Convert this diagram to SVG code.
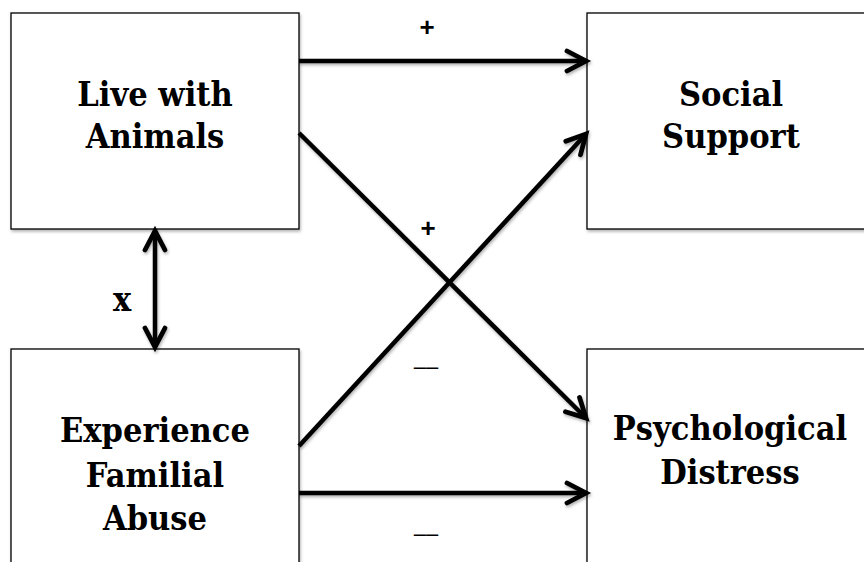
<svg xmlns="http://www.w3.org/2000/svg" width="864" height="562" viewBox="0 0 864 562">
  <defs>
    <filter id="sh" x="-10%" y="-10%" width="130%" height="130%">
      <feDropShadow dx="1" dy="2" stdDeviation="1.5" flood-color="#000" flood-opacity="0.3"/>
    </filter>
    <marker id="ah" viewBox="-24 -14 28 28" refX="0" refY="0" markerWidth="28" markerHeight="28" markerUnits="userSpaceOnUse" orient="auto-start-reverse" overflow="visible">
      <path d="M-19,-10 L0,0 L-19,10" fill="none" stroke="#000" stroke-width="4.8" stroke-linecap="round" stroke-linejoin="miter"/>
    </marker>
  </defs>
  <style>
    .box { fill: #fff; stroke: #000; stroke-width: 1.3; }
    .lbl { font-family: "DejaVu Serif", "Liberation Serif", serif; font-weight: bold; font-size: 34px; font-stretch: condensed; text-anchor: middle; fill: #000; }
    .plus { font-family: "Liberation Sans", Arial, sans-serif; font-weight: bold; font-size: 26px; text-anchor: middle; fill: #000; }
    .minus { font-family: "Liberation Sans", Arial, sans-serif; font-size: 22px; text-anchor: middle; fill: #000; }
    .conn { fill: none; stroke: #000; stroke-width: 4.5; }
  </style>
  <rect width="864" height="562" fill="#fff"/>

  <g id="live-with-animals">
    <rect class="box" x="11" y="13" width="288" height="216" filter="url(#sh)"/>
    <text class="lbl" x="155" y="106">Live with</text>
    <text class="lbl" x="155" y="148">Animals</text>
  </g>
  <g id="social-support">
    <rect class="box" x="587" y="13" width="290" height="216" filter="url(#sh)"/>
    <text class="lbl" x="731" y="106">Social</text>
    <text class="lbl" x="731" y="148">Support</text>
  </g>
  <g id="experience-familial-abuse">
    <rect class="box" x="11" y="349" width="288" height="230" filter="url(#sh)"/>
    <text class="lbl" x="155" y="442">Experience</text>
    <text class="lbl" x="155" y="487">Familial</text>
    <text class="lbl" x="155" y="530">Abuse</text>
  </g>
  <g id="psychological-distress">
    <rect class="box" x="587" y="349" width="290" height="230" filter="url(#sh)"/>
    <text class="lbl" x="730" y="440">Psychological</text>
    <text class="lbl" x="730" y="484">Distress</text>
  </g>

  <g id="connectors" filter="url(#sh)">
    <line class="conn" x1="299" y1="61" x2="586" y2="61" marker-end="url(#ah)"/>
    <line class="conn" x1="299" y1="133" x2="586" y2="418" marker-end="url(#ah)"/>
    <line class="conn" x1="299" y1="446" x2="586" y2="134" marker-end="url(#ah)"/>
    <line class="conn" x1="299" y1="493" x2="586" y2="493" marker-end="url(#ah)"/>
    <line class="conn" x1="155" y1="231" x2="155" y2="347" marker-start="url(#ah)" marker-end="url(#ah)"/>
  </g>

  <g id="labels">
    <text class="plus" x="427" y="36">+</text>
    <text class="plus" x="428" y="237">+</text>
    <text class="minus" x="426" y="374">––</text>
    <text class="minus" x="426" y="541">––</text>
    <text class="lbl" x="122" y="311" font-size="29px">x</text>
  </g>
</svg>
